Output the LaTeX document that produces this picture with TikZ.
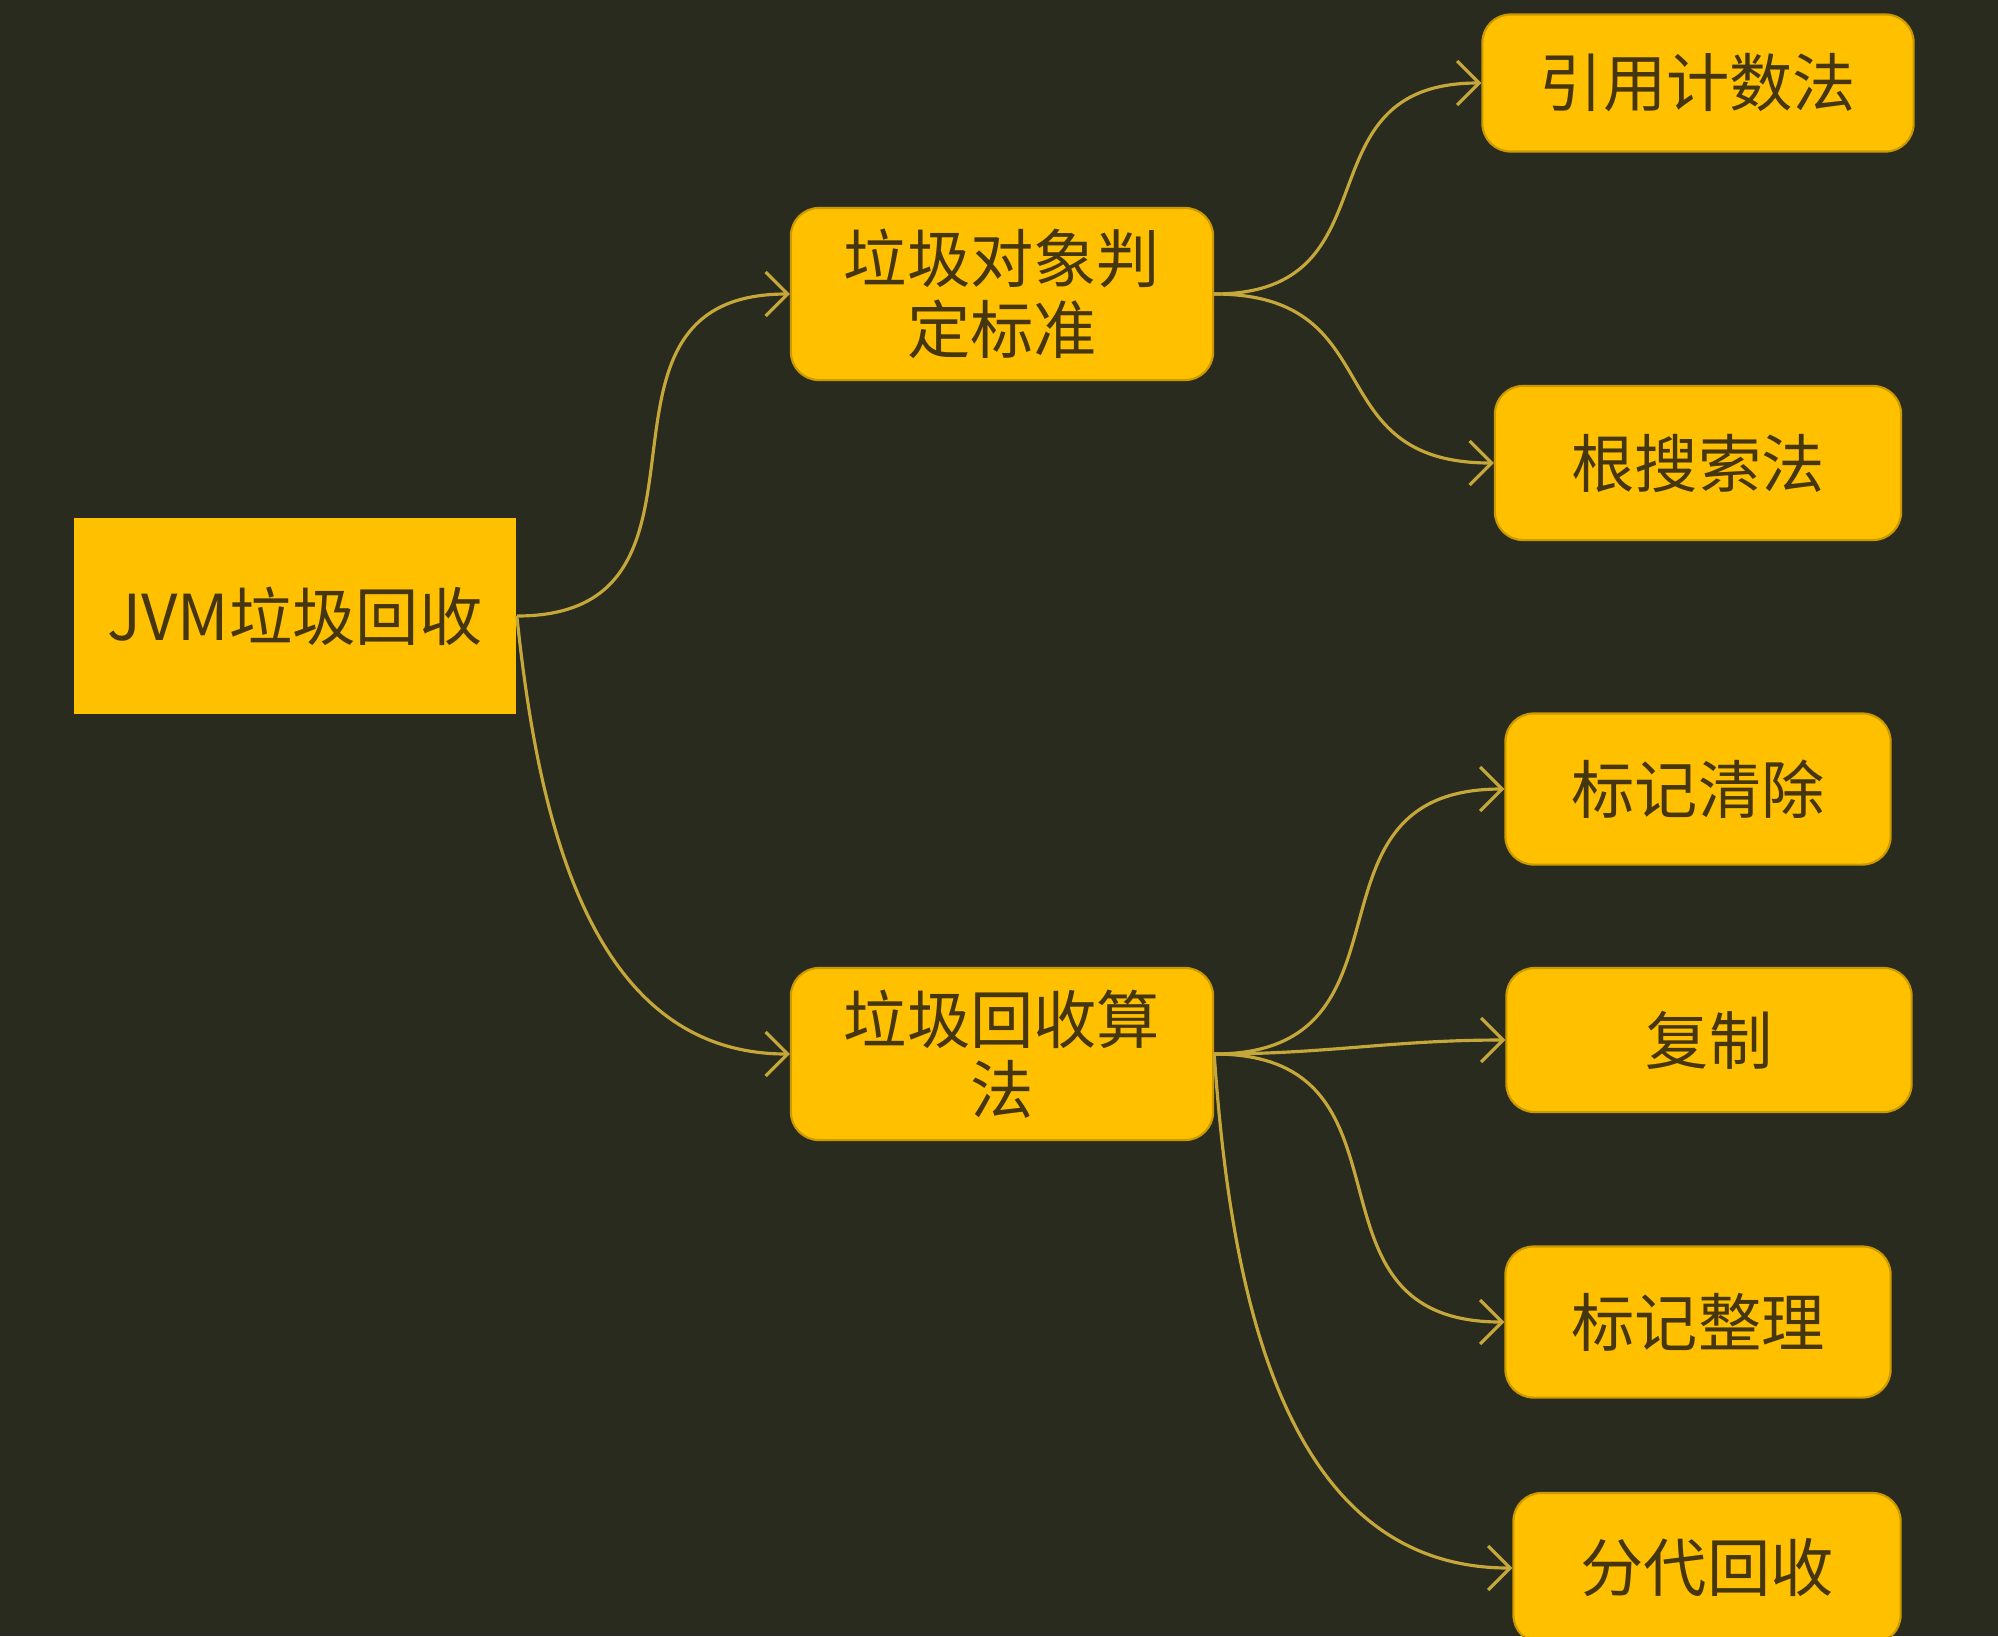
\documentclass[tikz,border=0pt]{standalone}
\usepackage{fontspec}
\setmainfont{Noto Sans CJK SC}
\usetikzlibrary{arrows.meta,positioning}

\definecolor{bgdark}{HTML}{292B1F}
\definecolor{boxamber}{HTML}{FFC000}
\definecolor{inkbrown}{HTML}{45360F}
\definecolor{linkolive}{HTML}{C6A83A}

\begin{document}
\begin{tikzpicture}[
      x=0.01cm, y=-0.01cm,
      box/.style={rectangle, fill=boxamber, text=inkbrown, align=center, inner sep=0pt, font=\fontsize{18}{20}\selectfont},
      rbox/.style={box, rounded corners=8pt, draw=boxamber!80!black, line width=0.6pt},
      link/.style={-{Straight Barb[length=2.2mm,width=4.4mm]}, draw=linkolive, line width=0.9pt},
      scurve/.style={out=0, in=180, looseness=1.4}
    ]

    % background
    \fill[bgdark] (0,0) rectangle (1998,1636);
    \useasboundingbox (0,0) rectangle (1998,1636);

    % ============ ROOT ============
    \node[box, minimum width=4.42cm, minimum height=1.95cm] (root) at (295,616) {JVM垃圾回收};

    % ============ SECOND LEVEL ============
    \node[rbox, minimum width=4.22cm, minimum height=1.72cm] (judge) at (1002,294) {垃圾对象判\\定标准};
    \node[rbox, minimum width=4.22cm, minimum height=1.72cm] (algo) at (1002,1054) {垃圾回收算\\法};

    % ============ LEAVES ============
    \node[rbox, minimum width=4.31cm, minimum height=1.37cm] (refcount) at (1698,83) {引用计数法};
    \node[rbox, minimum width=4.06cm, minimum height=1.54cm] (rootsearch) at (1698,463) {根搜索法};
    \node[rbox, minimum width=3.85cm, minimum height=1.51cm] (marksweep) at (1698,789) {标记清除};
    \node[rbox, minimum width=4.05cm, minimum height=1.44cm] (copying) at (1709,1040) {复制};
    \node[rbox, minimum width=3.85cm, minimum height=1.51cm] (markcompact) at (1698,1322) {标记整理};
    \node[rbox, minimum width=3.87cm, minimum height=1.50cm] (generational) at (1707,1568) {分代回收};

    % ============ CONNECTORS ============
    \draw[link] (root.east) to[scurve] (judge.west);
    \draw[link] (root.east) to[out=-84, in=180] (algo.west);

    \draw[link] (judge.east) to[scurve] (refcount.west);
    \draw[link] (judge.east) to[scurve] (rootsearch.west);

    \draw[link] (algo.east) to[scurve] (marksweep.west);
    \draw[link] (algo.east) to[out=0, in=180] (copying.west);
    \draw[link] (algo.east) to[scurve] (markcompact.west);
    \draw[link] (algo.east) to[out=-86, in=180] (generational.west);

  \end{tikzpicture}
\end{document}
